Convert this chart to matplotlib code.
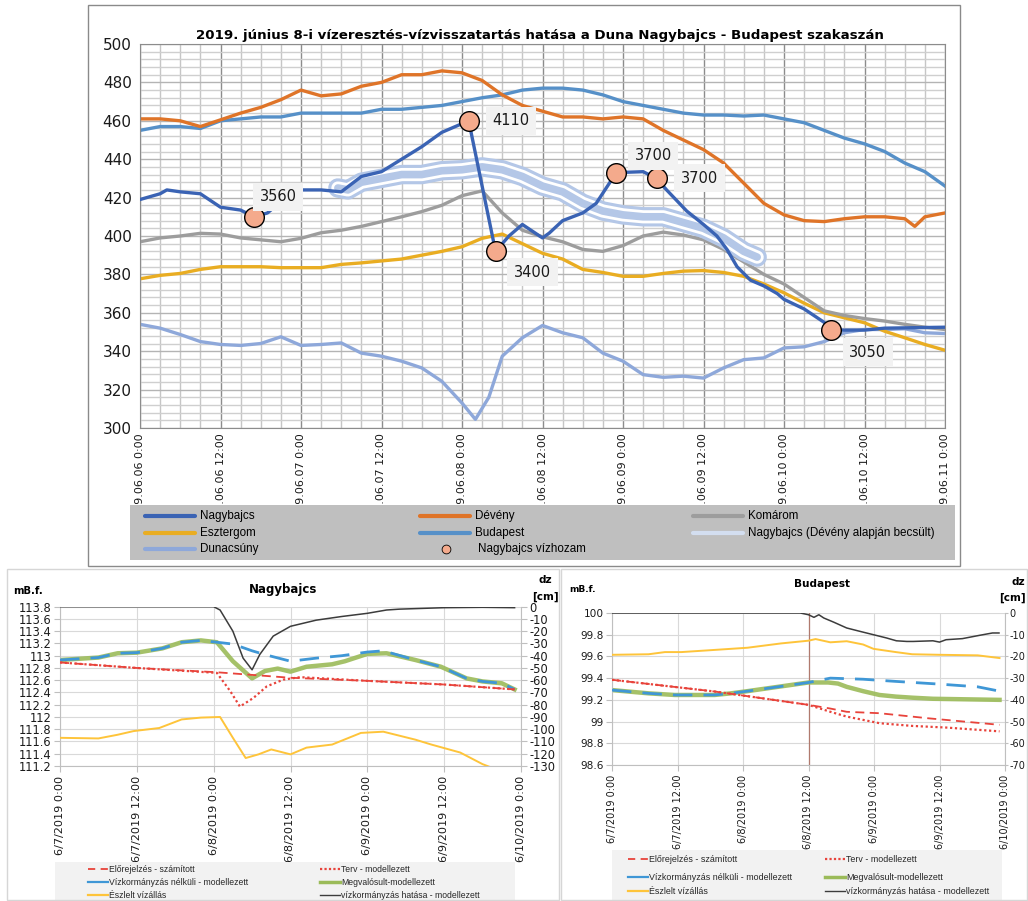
import matplotlib
matplotlib.use('Agg')
import matplotlib.pyplot as plt
from matplotlib.patches import Rectangle
from matplotlib.transforms import Bbox, TransformedBbox

plt.rcParams['font.family'] = 'DejaVu Sans'
plt.rcParams['axes.unicode_minus'] = False

W, H = 1028, 901

# ---------------- top chart: hours from 2019.06.06 0:00
top_ticks = [0, 12, 24, 36, 48, 60, 72, 84, 96, 108, 120]
top_ticklabels = ['2019.06.06 0:00', '2019.06.06 12:00', '2019.06.07 0:00', '2019.06.07 12:00',
                  '2019.06.08 0:00', '2019.06.08 12:00', '2019.06.09 0:00', '2019.06.09 12:00',
                  '2019.06.10 0:00', '2019.06.10 12:00', '2019.06.11 0:00']

h3 = list(range(0, 121, 3))

deveny_h = list(range(0, 115, 3)) + [115.5, 117, 120]
deveny_v = [461, 461, 460, 457, 460.5, 464, 467, 471, 476, 473, 474, 478, 480, 484, 484, 486, 485, 481,
            473.5, 468, 465, 462, 462, 461, 462, 461, 455, 450, 445, 438, 427.5, 417, 411, 408, 407.5,
            409, 410, 410, 409, 405, 410, 412]

budapest_v = [455, 457, 457, 456, 460, 461, 462, 462, 464, 464, 464, 464, 466, 466, 467, 468, 470, 472,
              473.5, 476, 477, 477, 476, 473.5, 470, 468, 466, 464, 463, 463, 462.5, 463, 461, 459, 455,
              451, 448, 444, 438, 433.5, 426]

komarom_v = [397, 399, 400, 401.4, 401, 399, 398, 397, 398.8, 401.7, 403, 405, 407.5, 410, 412.7, 416,
             421, 423.5, 412, 403, 399.6, 397, 393, 392, 395, 400, 402, 400.5, 398, 393, 386.5, 380, 375,
             368, 361, 358.6, 357, 355.7, 354, 352.5, 351.3]

esztergom_v = [377.7, 379.5, 380.5, 382.6, 384, 384, 384, 383.5, 383.5, 383.5, 385.2, 386, 387, 388, 390,
               392, 394.4, 398.8, 401, 396, 391, 388, 382.6, 381, 379, 379, 380.5, 381.7, 382, 381, 379,
               375, 370.4, 365, 360, 357.4, 354.8, 350.4, 347, 343.5, 340.5]

dunacsuny_h = list(range(0, 49, 3)) + [50, 52, 54] + list(range(57, 121, 3))
dunacsuny_v = [354, 352, 348.7, 345, 343.5, 343, 344, 347.5, 343, 343.5, 344.3, 339, 337.4, 334.8, 331.3,
               324.3, 313, 304.5, 316, 337.4, 347, 353.4, 349.6, 347, 339, 334.8, 327.8, 326.4, 327, 326,
               331.3, 335.6, 336.5, 341.7, 342.3, 345, 349.6, 351.3, 351.3, 351.7, 349.6, 349.2]

nagyb_h = [0, 3, 4, 6, 9, 12, 15, 17, 19, 21, 24, 27, 30, 33, 36, 39, 42, 45, 49, 53, 55, 57, 60, 61, 63,
           66, 68, 69.5, 71, 75, 77, 78.5, 81.5, 84, 86, 87.5, 89, 91, 93, 95, 96, 99, 102, 103, 108, 111, 120]
nagyb_v = [419, 422, 424, 423, 422, 415, 413.5, 410, 412, 418, 424, 424, 423, 431, 433.5, 440, 446.5, 454,
           460, 392, 400, 406, 399, 401.5, 408, 412, 417, 425, 433, 433.5, 430, 424, 413, 406, 400, 393,
           384, 377, 374, 370, 367, 362, 355, 351, 351, 352, 352.5]

becsult_h = [29.5, 31, 33, 36, 39, 42, 45, 48, 51, 54, 57, 60, 63, 66, 69, 72, 75, 78, 81, 84, 87, 90, 92]
becsult_v = [425, 424, 428, 430, 432, 432, 434, 434.5, 436, 434.5, 431, 426, 423, 417, 413, 411, 410, 410,
             407, 404, 399, 392, 389]

# Nagybajcs vízhozam (m3/s) points
q_h = [17, 49, 53, 71, 77, 103]
q_v = [410, 460, 392, 433, 430, 351]
q_text = ['3560', '4110', '3400', '3700', '3700', '3050']
q_off = [(24, 20), (42, 0), (37, -21), (37, 17), (43, 0), (37, -22)]

c_nagyb = '#3a63b4'
c_deveny = '#df7428'
c_komarom = '#9d9d9d'
c_eszt = '#e9ad22'
c_bp = '#5690c8'
c_becs = '#b4c7e7'
c_duna = '#8ea8da'
c_q = '#f4aa8c'

# ---------------- bottom charts: hours from 6/7/2019 0:00
bot_ticks = [0, 12, 24, 36, 48, 60, 72]
bot_ticklabels = ['6/7/2019 0:00', '6/7/2019 12:00', '6/8/2019 0:00', '6/8/2019 12:00',
                  '6/9/2019 0:00', '6/9/2019 12:00', '6/10/2019 0:00']

# Nagybajcs (mB.f.)
n_elo_h = [0, 12, 24.5, 36, 48, 60, 71]
n_elo_v = [112.89, 112.80, 112.73, 112.64, 112.59, 112.53, 112.45]
n_terv_h = [0, 12, 24.5, 26.6, 28.1, 30.2, 32.3, 34.9, 37.5, 48, 60, 71]
n_terv_v = [112.89, 112.80, 112.72, 112.42, 112.17, 112.31, 112.5, 112.61, 112.65, 112.59, 112.53, 112.45]
n_nelk_h = [0, 6, 9, 12, 16, 19, 22, 24.5, 27, 30, 32.3, 36, 40, 44, 48, 50.5, 55.5, 59.5, 63.5, 66, 69, 71]
n_nelk_v = [112.93, 112.97, 113.04, 113.05, 113.12, 113.22, 113.25, 113.22, 113.19, 113.08, 113.01,
            112.91, 112.96, 113.0, 113.06, 113.08, 112.93, 112.82, 112.63, 112.58, 112.55, 112.45]
n_megv_h = [0, 6, 9, 12, 16, 19, 22, 24.5, 27, 30, 32, 34, 36, 38.5, 42.5, 44.5, 48, 51, 55.5, 59.5,
            63.5, 66, 69, 71]
n_megv_v = [112.93, 112.97, 113.04, 113.05, 113.12, 113.22, 113.25, 113.22, 112.91, 112.63, 112.75,
            112.79, 112.74, 112.82, 112.86, 112.91, 113.03, 113.04, 112.93, 112.82, 112.63, 112.58,
            112.55, 112.45]
n_eszl_h = [0, 6, 9, 11.5, 15.5, 19, 22, 25, 27, 29, 31, 33, 36, 38.5, 42.5, 47, 50.5, 55.5, 58, 62.5,
            66, 68, 71]
n_eszl_v = [111.66, 111.65, 111.71, 111.77, 111.82, 111.96, 111.99, 112.0, 111.66, 111.33, 111.39,
            111.47, 111.39, 111.50, 111.55, 111.74, 111.76, 111.63, 111.55, 111.42, 111.23, 111.15, 111.05]
n_dz_h = [0, 24, 25, 27, 28.6, 30, 31.2, 33.3, 36, 40, 44, 48, 51, 53, 60, 66, 71]
n_dz_v = [0, 0, -2.7, -20, -42, -51.5, -39, -24, -16, -11, -8, -5.4, -2.7, -2, -0.8, -0.5, -0.8]
n_yticks = [111.2, 111.4, 111.6, 111.8, 112, 112.2, 112.4, 112.6, 112.8, 113, 113.2, 113.4, 113.6, 113.8]
n_dzticks = [0, -10, -20, -30, -40, -50, -60, -70, -80, -90, -100, -110, -120, -130]

# Budapest (mB.f.)
b_elo_h = [0, 18.8, 36, 40, 43, 49, 58, 71]
b_elo_v = [99.385, 99.277, 99.154, 99.12, 99.09, 99.077, 99.03, 98.97]
b_terv_h = [0, 18.8, 36, 40, 43, 49, 55, 61.2, 71]
b_terv_v = [99.385, 99.277, 99.154, 99.09, 99.046, 98.985, 98.96, 98.945, 98.91]
b_nelk_h = [0, 6.7, 11.5, 18.8, 21.8, 24.8, 29, 36, 40, 46, 52, 60, 67, 71]
b_nelk_v = [99.29, 99.26, 99.245, 99.245, 99.26, 99.28, 99.31, 99.36, 99.40, 99.39, 99.37, 99.345,
            99.32, 99.28]
b_megv_h = [0, 6.7, 11.5, 18.8, 21.8, 24.8, 29, 36, 39.6, 41.4, 43, 46, 49, 52, 55, 58.8, 71]
b_megv_v = [99.29, 99.26, 99.245, 99.245, 99.26, 99.28, 99.31, 99.36, 99.36, 99.35, 99.32, 99.28,
            99.245, 99.23, 99.22, 99.21, 99.2]
b_eszl_h = [0, 6.7, 9.7, 12.7, 18.8, 24.8, 31, 36, 37.3, 40, 43, 46, 47.9, 52, 55, 60, 67, 71]
b_eszl_v = [99.615, 99.62, 99.64, 99.64, 99.66, 99.68, 99.72, 99.745, 99.76, 99.73, 99.74, 99.71,
            99.67, 99.64, 99.62, 99.615, 99.61, 99.585]
b_dz_h = [0, 34.5, 36, 37, 37.9, 38.8, 40.6, 43, 45.5, 47.9, 50.3, 52.1, 54, 55.2, 58.8, 60, 61.2,
          64.2, 67.3, 69.7, 70.9]
b_dz_v = [0, 0, -0.8, -2, -0.8, -2.3, -4.2, -6.9, -8.5, -10, -11.5, -12.8, -13.1, -13.1, -12.8, -13.4,
          -12.3, -11.8, -10.3, -9.2, -9.2]
b_yticks = [98.6, 98.8, 99, 99.2, 99.4, 99.6, 99.8, 100]
b_dzticks = [0, -10, -20, -30, -40, -50, -60, -70]

leg_bottom = ['Előrejelzés - számított', 'Terv - modellezett', 'Vízkormányzás nélküli - modellezett',
              'Megvalósult-modellezett', 'Észlelt vízállás', 'vízkormányzás hatása - modellezett']

c_red = '#e8433b'
c_blue2 = '#3f97d6'
c_green = '#9bbb59'
c_yel2 = '#fec43a'
c_blk = '#3c3c3c'


def px_axes(x0, y0, x1, y1):
    return fig.add_axes([x0 / W, 1 - y1 / H, (x1 - x0) / W, (y1 - y0) / H])


def ftext(x, y, s, **kw):
    fig.text(x / W, 1 - y / H, s, **kw)


def frame(x0, y0, x1, y1, ec):
    fig.add_artist(Rectangle((x0 / W, 1 - y1 / H), (x1 - x0) / W, (y1 - y0) / H,
                             transform=fig.transFigure, fill=False, edgecolor=ec, lw=1))


fig = plt.figure(figsize=(W / 100, H / 100), dpi=100)

# ======== top chart
frame(88, 5, 960, 566, '#8a8a8a')
ax = px_axes(140, 44, 945, 428)
ax.set_xlim(0, 120)
ax.set_ylim(300, 500)
ax.set_xticks(top_ticks)
ax.set_xticklabels(top_ticklabels, rotation=90, fontsize=8, color='#1a1a1a')
ax.set_xticks(h3, minor=True)
ax.set_yticks(range(300, 501, 20))
ax.set_yticks(range(300, 501, 4), minor=True)
ax.tick_params(axis='y', labelsize=11, colors='#1a1a1a', length=0, pad=6)
ax.tick_params(axis='x', length=0, pad=4)
ax.tick_params(which='minor', length=0)
ax.grid(which='major', axis='x', color='#8c8c8c', lw=1)
ax.grid(which='minor', axis='x', color='#c6c6c6', lw=1)
ax.grid(which='major', axis='y', color='#b4b4b4', lw=1)
ax.grid(which='minor', axis='y', color='#cfcfcf', lw=1)
ax.set_axisbelow(True)
for s in ax.spines.values():
    s.set_color('#8c8c8c')
# the date labels disappear under the legend box, as in the original
clipbb = TransformedBbox(Bbox([[0, 1 - 504 / H], [1, 1]]), fig.transFigure)
for t in ax.get_xticklabels():
    t.set_clip_box(clipbb)
    t.set_clip_on(True)

ax.plot(dunacsuny_h, dunacsuny_v, color=c_duna, lw=2.4, zorder=2)
ax.plot(h3, esztergom_v, color=c_eszt, lw=2.4, zorder=2)
ax.plot(h3, komarom_v, color=c_komarom, lw=2.4, zorder=2)
ax.plot(h3, budapest_v, color=c_bp, lw=2.4, zorder=2)
ax.plot(deveny_h, deveny_v, color=c_deveny, lw=2.4, zorder=2)
for lw, c in [(14, c_becs), (9.5, 'white'), (5.5, c_becs)]:
    ax.plot(becsult_h, becsult_v, color=c, lw=lw, solid_capstyle='round', solid_joinstyle='round', zorder=3)
ax.plot(nagyb_h, nagyb_v, color=c_nagyb, lw=2.4, zorder=4)
ax.scatter(q_h, q_v, s=200, color=c_q, edgecolors='black', linewidths=1, zorder=5)
for hh, vv, t, off in zip(q_h, q_v, q_text, q_off):
    ax.annotate(t, (hh, vv), xytext=off, textcoords='offset pixels', ha='center',
                va='center', fontsize=10.5, color='#1a1a1a', zorder=6,
                bbox=dict(boxstyle='square,pad=0.45', fc='#f2f2f2', ec='none'))
ftext(540, 35, '2019. június 8-i vízeresztés-vízvisszatartás hatása a Duna Nagybajcs - Budapest szakaszán',
      ha='center', va='center', fontsize=9.6, fontweight='bold')

# legend of the top chart (covers the start of the date labels)
lax = px_axes(130, 505, 955, 560)
lax.set_facecolor('#bfbfbf')
lax.set_xlim(130, 955)
lax.set_ylim(560, 505)
lax.set_xticks([])
lax.set_yticks([])
for s in lax.spines.values():
    s.set_visible(False)
top_leg = [('Nagybajcs', c_nagyb, 145, 516), ('Dévény', c_deveny, 420, 516), ('Komárom', c_komarom, 693, 516),
           ('Esztergom', c_eszt, 145, 533), ('Budapest', c_bp, 420, 533),
           ('Nagybajcs (Dévény alapján becsült)', '#d3def0', 693, 533), ('Dunacsúny', c_duna, 145, 549)]
for lab, c, x0, y0 in top_leg:
    lax.plot([x0, x0 + 50], [y0, y0], color=c, lw=3, solid_capstyle='round')
    lax.text(x0 + 55, y0, lab, va='center', fontsize=8.4, family='Liberation Sans')
lax.scatter([446], [549], s=40, color=c_q, edgecolors='black', linewidths=0.6)
lax.text(478, 549, 'Nagybajcs vízhozam', va='center', fontsize=8.4, family='Liberation Sans')

# ======== bottom panels
frame(7, 569, 559, 900, '#d6d6d6')
frame(561, 569, 1027, 900, '#d6d6d6')


def bottom_panel(axp, yt, dzt, dzlim, tsize, lsize, rsize, rlen, rpad):
    axp.set_xlim(0, 72)
    axp.set_ylim(yt[0], yt[-1])
    axp.set_yticks(yt)
    axp.set_yticklabels(['%g' % v for v in yt])
    axp.set_xticks(bot_ticks)
    axp.set_xticklabels(bot_ticklabels, rotation=90)
    axp.tick_params(axis='y', labelsize=tsize, length=4, color='#bfbfbf', pad=2, labelcolor='#1a1a1a')
    axp.tick_params(axis='x', labelsize=lsize, length=4, color='#bfbfbf', pad=3, labelcolor='#1a1a1a')
    axp.grid(True, color='#d9d9d9', lw=0.8)
    axp.set_axisbelow(True)
    axp.spines['top'].set_visible(False)
    for k in ['left', 'bottom', 'right']:
        axp.spines[k].set_color('#bfbfbf')
    ax2 = axp.twinx()
    ax2.set_ylim(dzlim, 0)
    ax2.set_yticks(dzt)
    ax2.tick_params(axis='y', labelsize=rsize, length=rlen, color='#bfbfbf', pad=rpad, labelcolor='#1a1a1a')
    for s in ax2.spines.values():
        s.set_visible(False)
    return ax2


def bottom_legend(x0, y0, x1, y1, cols, rows, fs):
    la = px_axes(x0, y0, x1, y1)
    la.set_facecolor('#f2f2f2')
    la.set_xlim(x0, x1)
    la.set_ylim(y1, y0)
    la.set_xticks([])
    la.set_yticks([])
    for s in la.spines.values():
        s.set_visible(False)
    styles = [(c_red, (0, (4, 3)), 1.3), (c_red, (0, (1, 1)), 1.6), (c_blue2, '-', 1.6),
              (c_green, '-', 2.5), (c_yel2, '-', 1.6), (c_blk, '-', 1.0)]
    for i, (lab, st) in enumerate(zip(leg_bottom, styles)):
        xc = cols[i % 2]
        yc = rows[i // 2]
        la.plot([xc, xc + 20], [yc, yc], color=st[0], linestyle=st[1], lw=st[2])
        la.text(xc + 21, yc, lab, va='center', fontsize=fs, family='Liberation Sans', color='#262626')


# Nagybajcs
axn = px_axes(60, 606.7, 521, 766)
axn2 = bottom_panel(axn, n_yticks, n_dzticks, -130, 8.3, 8.1, 8.3, 4, 2)
axn.plot(n_megv_h, n_megv_v, color=c_green, lw=3.2, alpha=0.9, zorder=2)
axn.plot(n_nelk_h, n_nelk_v, color=c_blue2, lw=2, dashes=(7, 4), zorder=3)
axn.plot(n_elo_h, n_elo_v, color=c_red, lw=1.3, dashes=(5, 3), zorder=3)
axn.plot(n_terv_h, n_terv_v, color=c_red, lw=1.6, dashes=(1, 1.2), zorder=3)
axn.plot(n_eszl_h, n_eszl_v, color=c_yel2, lw=1.4, zorder=3)
axn2.plot(n_dz_h, n_dz_v, color=c_blk, lw=1.1)
ftext(283, 590, 'Nagybajcs', ha='center', va='center', fontsize=8.5, fontweight='bold')
ftext(13, 591, 'mB.f.', ha='left', va='center', fontsize=7.2, fontweight='bold')
ftext(545, 580, 'dz', ha='center', va='center', fontsize=7.5, fontweight='bold')
ftext(545, 597, '[cm]', ha='center', va='center', fontsize=7.5, fontweight='bold')
bottom_legend(55, 862, 515, 900, [88, 320], [869, 882, 895], 6.2)

# Budapest
axb = px_axes(612, 613, 1005, 765)
axb2 = bottom_panel(axb, b_yticks, b_dzticks, -70, 7.6, 7, 7, 2, 1.5)
axb.axvline(36, color='#b07a6e', lw=0.9, zorder=1)
axb.plot(b_megv_h, b_megv_v, color=c_green, lw=3.2, alpha=0.9, zorder=2)
axb.plot(b_nelk_h, b_nelk_v, color=c_blue2, lw=2, dashes=(7, 4), zorder=3)
axb.plot(b_elo_h, b_elo_v, color=c_red, lw=1.3, dashes=(5, 3), zorder=3)
axb.plot(b_terv_h, b_terv_v, color=c_red, lw=1.6, dashes=(1, 1.2), zorder=3)
axb.plot(b_eszl_h, b_eszl_v, color=c_yel2, lw=1.4, zorder=3)
axb2.plot(b_dz_h, b_dz_v, color=c_blk, lw=1.1)
ftext(822, 584, 'Budapest', ha='center', va='center', fontsize=7.6, fontweight='bold')
ftext(569, 590, 'mB.f.', ha='left', va='center', fontsize=6.5, fontweight='bold')
ftext(1012, 582, 'dz', ha='left', va='center', fontsize=7.5, fontweight='bold')
ftext(1026, 598, '[cm]', ha='right', va='center', fontsize=7.5, fontweight='bold')
bottom_legend(612, 850, 1002, 900, [628, 825], [859, 877, 891], 6.4)

fig.savefig('out.png', dpi=100)
